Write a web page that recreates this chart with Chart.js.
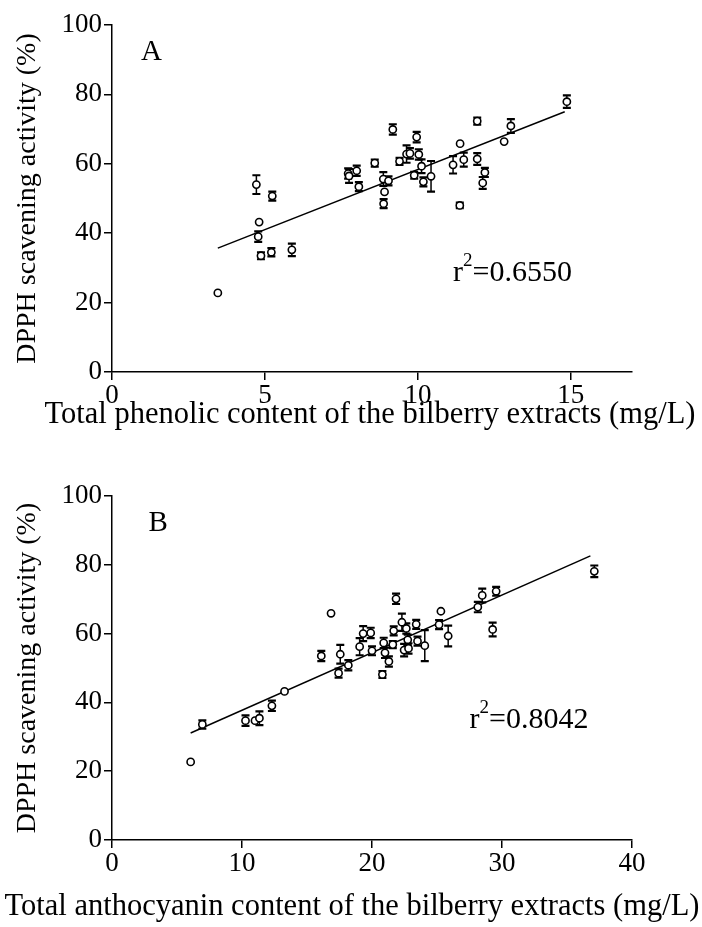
<!DOCTYPE html>
<html>
<head>
<meta charset="utf-8">
<script src="https://cdn.jsdelivr.net/npm/chart.js@4.4.1/dist/chart.umd.min.js"></script>
<style>
  html, body { margin: 0; padding: 0; background: #fff; }
  canvas { display: block; }
</style>
</head>
<body>
<canvas id="chartA" width="702" height="463"></canvas>
<canvas id="chartB" width="702" height="464"></canvas>
<script>
'use strict';

// ---- panel A: total phenolic content vs DPPH ----
const phenolX = [3.46, 4.72, 4.81, 4.78, 4.87, 5.21, 5.24, 5.88, 7.72, 7.75, 8.0, 8.07, 8.59, 8.87, 8.91, 8.88, 9.04, 9.18, 9.40, 9.63, 9.74,
  9.88, 9.96, 10.03, 10.12, 10.18, 10.43, 11.15, 11.38, 11.37, 11.5, 11.94, 11.94, 12.19, 12.12, 12.82, 13.04, 14.87];
const dpphA = [22.8, 54.0, 43.2, 39.0, 33.5, 34.5, 50.7, 35.2, 57.2, 56.5, 58.0, 53.4, 60.2, 55.6, 51.9, 48.5, 55.1, 69.9, 60.7, 62.8, 63.0,
  56.7, 67.7, 62.7, 59.3, 54.8, 56.4, 59.7, 65.8, 48.0, 61.2, 72.3, 61.4, 57.5, 54.5, 66.4, 70.9, 77.9];
const errA = [0, 2.7, 0, 1.5, 1.0, 1.2, 1.3, 1.8, 1.5, 2.0, 1.5, 1.3, 1.0, 2.0, 0, 1.3, 1.3, 1.5, 1.0, 2.5, 1.5,
  1.0, 1.5, 1.5, 2.0, 1.3, 4.4, 2.5, 0, 0.8, 2.0, 1.0, 1.7, 1.3, 1.7, 0, 2.0, 1.8];
const fitAX = [3.46, 14.8];
const fitAY = [35.7, 75.0];
const xTicksA = [0, 5, 10, 15];
const r2A = '0.6550';

// ---- panel B: total anthocyanin content vs DPPH ----
const anthoX = [6.05, 6.95, 10.27, 11.0, 11.34, 12.3, 13.27, 16.1, 16.85, 17.43, 17.56, 18.18, 19.05, 19.32, 19.9, 20.0, 20.8, 20.9, 21.0, 21.3,
  21.6, 21.67, 21.85, 22.3, 22.47, 22.64, 22.75, 22.81, 23.4, 23.5, 24.06, 25.16, 25.3, 25.86, 28.14, 28.48, 29.28, 29.55, 37.1];
const dpphB = [22.7, 33.6, 34.7, 34.7, 35.4, 39.0, 43.2, 53.5, 65.9, 48.5, 54.0, 50.8, 56.2, 60.0, 60.2, 55.0, 48.1, 57.3, 54.4, 51.9,
  56.8, 60.8, 70.1, 63.3, 55.2, 61.5, 58.2, 55.7, 62.7, 57.8, 56.5, 62.6, 66.5, 59.3, 67.7, 71.1, 61.2, 72.3, 78.1];
const errB = [0, 1.2, 1.5, 0, 2.0, 1.5, 0, 1.5, 0, 1.3, 2.7, 1.5, 2.5, 2.2, 1.5, 1.3, 1.0, 1.5, 1.5, 1.5,
  1.0, 1.3, 1.5, 2.5, 1.8, 1.5, 1.5, 1.5, 1.3, 1.3, 4.5, 1.3, 0, 3.0, 1.5, 2.0, 2.0, 1.3, 1.7];
const fitBX = [6.05, 36.8];
const fitBY = [31.1, 82.6];
const xTicksB = [0, 10, 20, 30, 40];
const r2B = '0.8042';

const yTicks = [0, 20, 40, 60, 80, 100];
const yTitle = 'DPPH scavening activity (%)';

const SERIF = "'Liberation Serif', 'Times New Roman', serif";

const toPts = (xs, ys) => xs.map((x, i) => ({ x, y: ys[i] }));

// vertical error bars with caps, drawn under the open circles
const errorBars = {
  id: 'errorBars',
  beforeDatasetsDraw(chart) {
    const { ctx, scales: { y } } = chart;
    chart.data.datasets.forEach((ds, di) => {
      if (!ds.errors) return;
      const meta = chart.getDatasetMeta(di);
      ctx.save();
      ctx.strokeStyle = '#000';
      meta.data.forEach((pt, i) => {
        const e = ds.errors[i];
        if (!e) return;
        const v = ds.data[i].y;
        const top = y.getPixelForValue(v + e);
        const bot = y.getPixelForValue(v - e);
        ctx.lineWidth = 1.5;
        ctx.beginPath();
        ctx.moveTo(pt.x, top);
        ctx.lineTo(pt.x, bot);
        ctx.stroke();
        ctx.lineWidth = 2.2;
        ctx.beginPath();
        ctx.moveTo(pt.x - 4, top); ctx.lineTo(pt.x + 4, top);
        ctx.moveTo(pt.x - 4, bot); ctx.lineTo(pt.x + 4, bot);
        ctx.stroke();
      });
      ctx.restore();
    });
  }
};

// panel letter, r^2 note and the x title (drawn here so it is not squeezed to the plot width)
const notes = {
  id: 'notes',
  afterDraw(chart, args, opts) {
    const { ctx, chartArea, scales: { x, y } } = chart;
    ctx.save();
    ctx.fillStyle = '#000';
    ctx.textBaseline = 'middle';
    ctx.textAlign = 'left';
    ctx.font = '29px ' + SERIF;
    ctx.fillText(opts.letter, x.getPixelForValue(opts.letterAt[0]), y.getPixelForValue(opts.letterAt[1]));

    let px = x.getPixelForValue(opts.r2At[0]);
    const py = y.getPixelForValue(opts.r2At[1]);
    ctx.font = '30px ' + SERIF;
    ctx.fillText('r', px, py);
    px += ctx.measureText('r').width;
    ctx.font = '19px ' + SERIF;
    ctx.fillText('2', px, py - 12);
    px += ctx.measureText('2').width;
    ctx.font = '30px ' + SERIF;
    ctx.fillText('=' + opts.r2, px, py);

    ctx.textAlign = 'center';
    ctx.font = opts.titleSize + 'px ' + SERIF;
    ctx.fillText(opts.xTitle, (chartArea.left + chartArea.right) / 2 + opts.titleShift, opts.titleY);
    ctx.restore();
  }
};

function makePanel(id, p) {
  const el = document.getElementById(id);
  const H = el.height;
  return new Chart(el, {
    type: 'scatter',
    data: {
      datasets: [
        {
          data: toPts(p.fitX, p.fitY),
          showLine: true,
          borderColor: '#000',
          borderWidth: 1.5,
          pointRadius: 0,
          order: 2
        },
        {
          data: toPts(p.xs, p.ys),
          errors: p.err,
          pointStyle: 'circle',
          pointRadius: 3.6,
          borderWidth: 1.6,
          borderColor: '#000',
          backgroundColor: '#fff',
          order: 1
        }
      ]
    },
    options: {
      responsive: false,
      animation: false,
      layout: { padding: { left: 0, right: 702 - 632, top: p.top, bottom: 0 } },
      plugins: {
        legend: { display: false },
        tooltip: { enabled: false },
        notes: {
          letter: p.letter, letterAt: p.letterAt, r2: p.r2, r2At: p.r2At,
          xTitle: p.xTitle, titleY: p.titleY, titleShift: p.titleShift, titleSize: p.titleSize
        }
      },
      scales: {
        x: {
          type: 'linear',
          min: 0,
          max: p.xMax,
          afterBuildTicks: s => { s.ticks = p.xTicks.map(v => ({ value: v })); },
          afterFit: s => { s.height = H - p.bottom; },
          ticks: { color: '#000', font: { family: SERIF, size: 27 }, padding: 0, maxRotation: 0 },
          grid: { drawOnChartArea: false, drawTicks: true, tickLength: 8, color: '#000', lineWidth: 1.5 },
          border: { display: true, color: '#000', width: 1.5 }
        },
        y: {
          type: 'linear',
          min: 0,
          max: 100,
          afterBuildTicks: s => { s.ticks = yTicks.map(v => ({ value: v })); },
          afterFit: s => { s.width = 112; },
          ticks: { color: '#000', font: { family: SERIF, size: 27 }, padding: 2 },
          grid: { drawOnChartArea: false, drawTicks: true, tickLength: 8, color: '#000', lineWidth: 1.5 },
          border: { display: true, color: '#000', width: 1.5 },
          title: {
            display: true,
            text: yTitle,
            color: '#000',
            font: { family: SERIF, size: 28 },
            padding: { top: 11, bottom: 0 }
          }
        }
      }
    },
    plugins: [errorBars, notes]
  });
}

makePanel('chartA', {
  xs: phenolX, ys: dpphA, err: errA, fitX: fitAX, fitY: fitAY,
  xMax: 17, xTicks: xTicksA,
  xTitle: 'Total phenolic content of the bilberry extracts (mg/L)',
  titleY: 415, titleShift: -2, titleSize: 30.5,
  letter: 'A', letterAt: [0.95, 92], r2: r2A, r2At: [11.15, 28.4],
  top: 25, bottom: 372
});

makePanel('chartB', {
  xs: anthoX, ys: dpphB, err: errB, fitX: fitBX, fitY: fitBY,
  xMax: 40, xTicks: xTicksB,
  xTitle: 'Total anthocyanin content of the bilberry extracts (mg/L)',
  titleY: 907 - 463, titleShift: -20, titleSize: 30.5,
  letter: 'B', letterAt: [2.8, 92], r2: r2B, r2At: [27.5, 34.8],
  top: 496 - 463, bottom: 840 - 463
});
</script>
</body>
</html>
